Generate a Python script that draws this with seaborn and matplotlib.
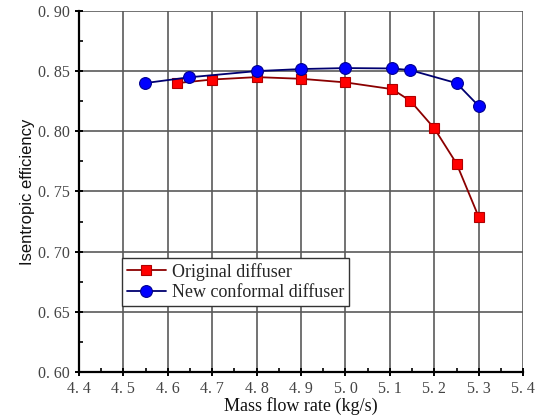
import matplotlib
matplotlib.use("Agg")
import matplotlib.pyplot as plt
import seaborn as sns
import pandas as pd
from matplotlib.ticker import MultipleLocator, FixedLocator

sns.set_style("white")
plt.rcParams['font.family'] = ['Liberation Serif', 'DejaVu Serif']

orig_x = [4.62, 4.70, 4.80, 4.90, 5.00, 5.105, 5.146, 5.20, 5.25, 5.30]
orig_y = [0.840, 0.843, 0.845, 0.8436, 0.8406, 0.835, 0.8253, 0.8024, 0.7732, 0.7288]
new_x = [4.548, 4.647, 4.80, 4.90, 5.00, 5.105, 5.146, 5.25, 5.30]
new_y = [0.840, 0.8448, 0.850, 0.8517, 0.8525, 0.8522, 0.8508, 0.840, 0.821]

xticks = [4.4, 4.5, 4.6, 4.7, 4.8, 4.9, 5.0, 5.1, 5.2, 5.3, 5.4]
yticks = [0.60, 0.65, 0.70, 0.75, 0.80, 0.85, 0.90]

df_o = pd.DataFrame({"x": orig_x, "y": orig_y})
df_n = pd.DataFrame({"x": new_x, "y": new_y})

fig = plt.figure(figsize=(5.39, 4.19), dpi=100)
ax = fig.add_axes([0.1466, 0.112, 0.824, 0.862])

sns.lineplot(data=df_o, x="x", y="y", ax=ax, color="#8b0000", lw=1.3,
             marker="s", markersize=6.5, markerfacecolor="#ff0000",
             markeredgecolor="#b00000", markeredgewidth=0.8,
             label="Original diffuser", zorder=3)
sns.lineplot(data=df_n, x="x", y="y", ax=ax, color="#000070", lw=1.3,
             marker="o", markersize=8.5, markerfacecolor="#0000ff",
             markeredgecolor="#000090", markeredgewidth=0.8,
             label="New conformal diffuser", zorder=4)

ax.set_xlim(4.4, 5.4)
ax.set_ylim(0.60, 0.90)
ax.xaxis.set_major_locator(FixedLocator(xticks))
ax.yaxis.set_major_locator(FixedLocator(yticks))
ax.set_xticklabels([f"{v:.1f}".replace(".", ". ") for v in xticks])
ax.set_yticklabels([f"{v:.2f}".replace(".", ". ") for v in yticks])
ax.xaxis.set_minor_locator(MultipleLocator(0.05))
ax.yaxis.set_minor_locator(MultipleLocator(0.025))

ax.grid(True, which="major", color="#5a5a5a", lw=1.2)
ax.set_axisbelow(True)
for s in ["top", "right"]:
    ax.spines[s].set_visible(False)
for s in ["left", "bottom"]:
    ax.spines[s].set_color("black")
    ax.spines[s].set_linewidth(1.6)

ax.tick_params(which="major", direction="inout", length=6, width=1.4,
               colors="black", labelsize=11.5, labelcolor="#444444")
ax.tick_params(which="minor", direction="in", length=3, width=1.2, colors="black")
ax.tick_params(axis="x", which="both", bottom=True)
ax.tick_params(axis="y", which="both", left=True)

ax.set_xlabel("Mass flow rate (kg/s)", fontsize=13, labelpad=0, color="#111111")
ax.set_ylabel("Isentropic efficiency", fontsize=12, labelpad=2,
              family=["Liberation Sans", "DejaVu Sans"], color="#111111")

leg = ax.legend(loc="upper left", bbox_to_anchor=(0.097, 0.315), frameon=True,
                fancybox=False, framealpha=1, edgecolor="#333333",
                fontsize=13, handlelength=2.2, handletextpad=0.3,
                borderpad=0.25, labelspacing=0.2, borderaxespad=0)
leg.get_frame().set_linewidth(1.0)

fig.savefig("out.png", dpi=100)
